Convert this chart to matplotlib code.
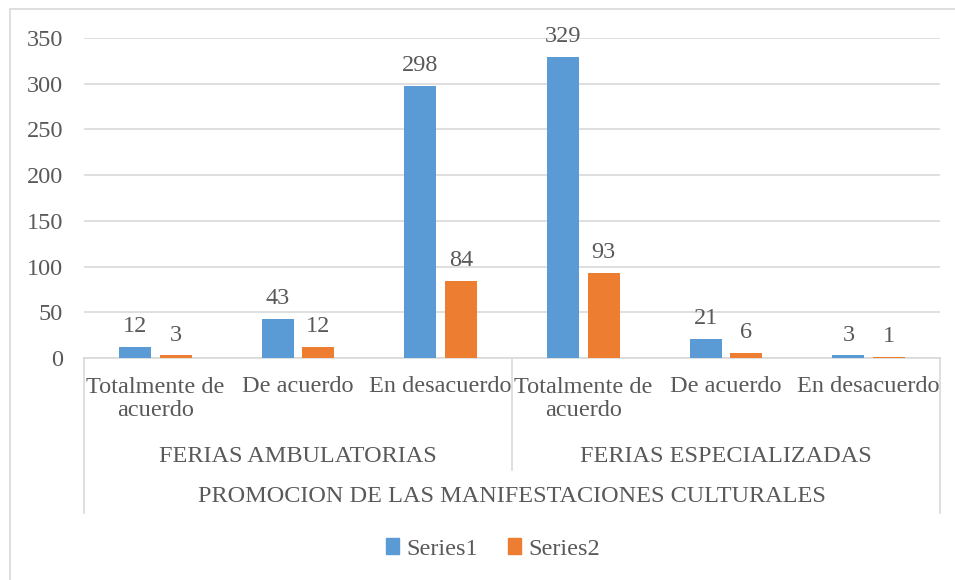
import matplotlib.pyplot as plt
from matplotlib.patches import Patch, Rectangle
from matplotlib.lines import Line2D
from matplotlib.transforms import blended_transform_factory

# Data
categories = ["Totalmente de\nacuerdo", "De acuerdo", "En desacuerdo",
              "Totalmente de\nacuerdo", "De acuerdo", "En desacuerdo"]
groups = ["FERIAS AMBULATORIAS", "FERIAS ESPECIALIZADAS"]
top_label = "PROMOCION DE LAS MANIFESTACIONES CULTURALES"
series1 = [12, 43, 298, 329, 21, 3]
series2 = [3, 12, 84, 93, 6, 1]
series_names = ["Series1", "Series2"]

blue = "#5B9BD5"
orange = "#ED7D31"
txt = "#595959"
grid = "#D9D9D9"
W, H = 955, 580
fs = 17.5

plt.rcParams["font.family"] = ["Liberation Serif", "DejaVu Serif"]

fig = plt.figure(figsize=(W / 100, H / 100), dpi=100)
# chart frame: top and left edges visible, right/bottom run off the image
fig.patches.append(Rectangle((10 / W, -0.2), 1.2, 1.2 - 9 / H, transform=fig.transFigure,
                             fill=False, edgecolor=grid, linewidth=1.2))

ax = fig.add_axes([84 / W, 1 - 358 / H, (940 - 84) / W, 320 / H])
x = list(range(len(categories)))
off = 0.142
bw = 0.225
ax.bar([i - off for i in x], series1, width=bw, color=blue, zorder=3)
ax.bar([i + off for i in x], series2, width=bw, color=orange, zorder=3)

for i in x:
    ax.annotate(str(series1[i]), (i - off, series1[i]), xytext=(0, 7), textcoords="offset points",
                ha="center", va="bottom", fontsize=fs, color=txt)
    ax.annotate(str(series2[i]), (i + off, series2[i]), xytext=(0, 7), textcoords="offset points",
                ha="center", va="bottom", fontsize=fs, color=txt)

ax.set_xlim(-0.5, len(categories) - 0.5)
ax.set_ylim(0, 350)
ax.set_yticks(range(0, 351, 50))
ax.grid(axis="y", color=grid, linewidth=1.2, zorder=0)
ax.set_xticks([])
ax.tick_params(axis="y", length=0, pad=15, labelsize=fs, labelcolor=txt)
for s in ["top", "right", "left"]:
    ax.spines[s].set_visible(False)
ax.spines["bottom"].set_color(grid)
ax.spines["bottom"].set_linewidth(1.2)

# multi-level category axis
tr = blended_transform_factory(ax.transData, fig.transFigure)
fy = lambda px: 1 - px / H
for i, c in enumerate(categories):
    ypos = 399 if "\n" in c else 387
    ax.text(i, fy(ypos), c, transform=tr, ha="center", va="center", fontsize=fs,
            color=txt, linespacing=1.15)
for g, name in enumerate(groups):
    ax.text(g * 3 + 1, fy(457), name, transform=tr, ha="center", va="center",
            fontsize=fs, color=txt)
ax.text(2.5, fy(497), top_label, transform=tr, ha="center", va="center",
        fontsize=fs, color=txt)
for xv, bottom in [(-0.5, 513), (2.5, 470), (5.5, 513)]:
    fig.add_artist(Line2D([xv, xv], [fy(358), fy(bottom)], transform=tr,
                          color=grid, linewidth=1.2))

handles = [Patch(color=blue), Patch(color=orange)]
fig.legend(handles, series_names, loc="center", bbox_to_anchor=(493 / W, fy(549)),
           ncol=2, frameon=False, fontsize=fs, handlelength=0.55, handleheight=0.6,
           handletextpad=0.3, columnspacing=1.2, labelcolor=txt)

fig.savefig("out.png", dpi=100)
